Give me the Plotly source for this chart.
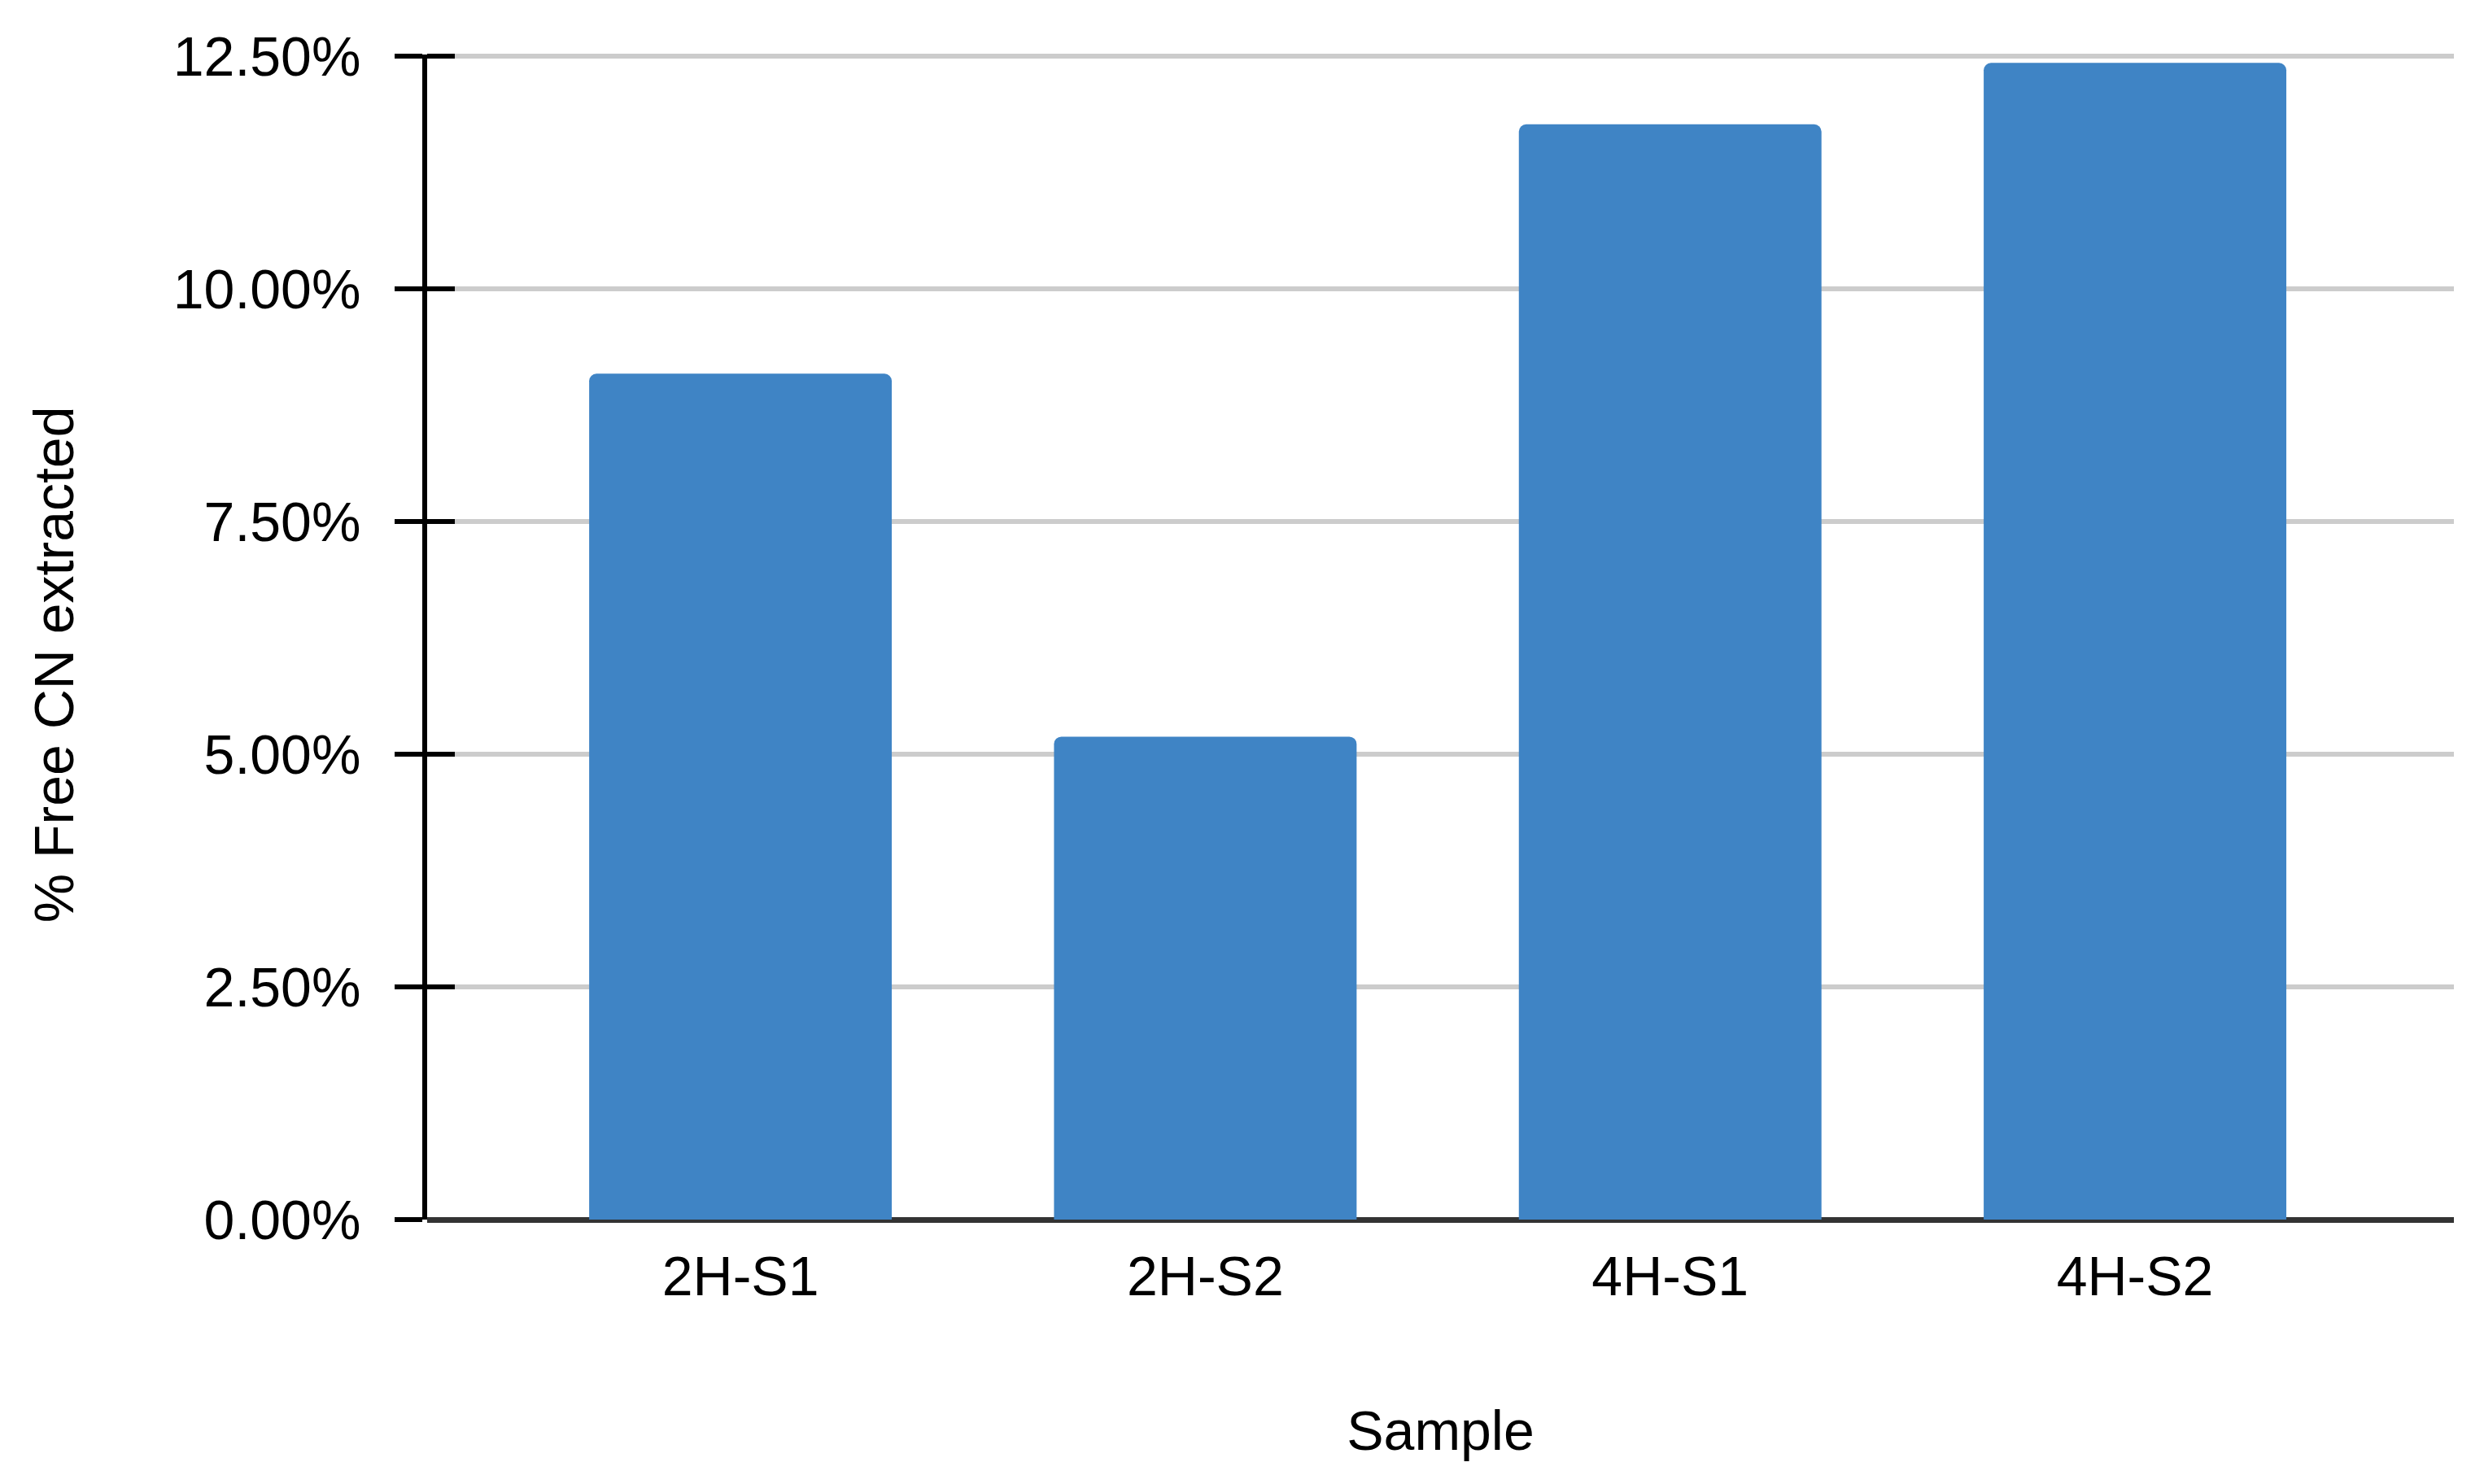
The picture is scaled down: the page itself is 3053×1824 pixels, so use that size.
import plotly.graph_objects as go

categories = ["2H-S1", "2H-S2", "4H-S1", "4H-S2"]
values = [0.0909, 0.0519, 0.1177, 0.1243]
y_tick_vals = [0, 0.025, 0.05, 0.075, 0.10, 0.125]
y_title = "% Free CN extracted"
x_title = "Sample"

FONT = "Liberation Sans, Arial, sans-serif"
BAR_COLOR = "#3F84C5"

fig = go.Figure()
fig.add_trace(go.Bar(
    x=categories, y=values,
    marker=dict(color=BAR_COLOR, line=dict(width=0), cornerradius=9),
    width=0.651,
))
# invisible trace to drive the secondary (inside-tick) axis
fig.add_trace(go.Scatter(x=categories, y=values, yaxis="y2", mode="markers",
                         marker=dict(opacity=0), hoverinfo="skip", showlegend=False))

Y_RANGE = [0, 0.1252]

# the page body has an 8px default margin, so the figure is 8px smaller
fig.update_layout(
    width=3045, height=1816,
    margin=dict(l=517, r=37, t=59, b=325, autoexpand=False),
    paper_bgcolor="white", plot_bgcolor="white",
    showlegend=False,
    font=dict(family=FONT, size=68, color="black"),
    xaxis=dict(
        range=[-0.674, 3.686],
        showgrid=False, zeroline=False, automargin=False,
        showline=False, ticks="",
        ticklabelstandoff=24,
        tickfont=dict(size=68, family=FONT, color="black"),
        title=dict(text=x_title, font=dict(size=68, family=FONT, color="black"), standoff=129),
    ),
    yaxis=dict(
        range=Y_RANGE, automargin=False,
        tickvals=y_tick_vals, tickformat=".2%",
        showgrid=True, gridcolor="#CCCCCC", gridwidth=6,
        zeroline=True, zerolinecolor="#333333", zerolinewidth=7,
        showline=True, linecolor="black", linewidth=6,
        ticks="outside", ticklen=34, tickwidth=6, tickcolor="black",
        ticklabelstandoff=28,
        tickfont=dict(size=68, family=FONT, color="black"),
    ),
    yaxis2=dict(
        range=Y_RANGE, overlaying="y", side="left", anchor="x",
        tickvals=y_tick_vals, showticklabels=False, automargin=False,
        showgrid=False, zeroline=False, showline=False,
        ticks="inside", ticklen=34, tickwidth=6, tickcolor="black",
    ),
    annotations=[dict(
        text=y_title, textangle=-90, showarrow=False,
        xref="paper", yref="paper", x=0, y=0.476,
        xanchor="center", yanchor="middle", xshift=-459,
        font=dict(size=68, family=FONT, color="black"),
    )],
)

fig.write_html("out.html")
